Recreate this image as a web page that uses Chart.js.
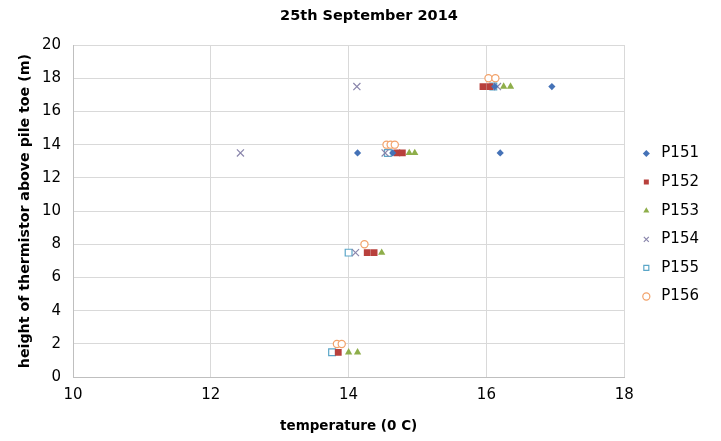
<!DOCTYPE html>
<html>
<head>
<meta charset="utf-8">
<script src="https://cdn.jsdelivr.net/npm/chart.js@4/dist/chart.umd.min.js"></script>
<style>
  html, body { margin: 0; padding: 0; background: #fff; }
  #wrap { width: 721px; height: 441px; }
</style>
</head>
<body>
<div id="wrap"><canvas id="myChart" width="721" height="441"></canvas></div>
<script>
// readings per pile: temperature (x) and thermistor height (y)
const p151Temp = [16.95, 16.12, 14.13, 16.2, 14.64];
const p151Height = [17.5, 17.5, 13.5, 13.5, 13.5];
const p152Temp = [15.95, 16.05, 14.7, 14.78, 14.27, 14.37, 13.85];
const p152Height = [17.5, 17.5, 13.5, 13.5, 7.5, 7.5, 1.5];
const p153Temp = [16.25, 16.35, 14.88, 14.96, 14.48, 14.0, 14.13];
const p153Height = [17.5, 17.5, 13.5, 13.5, 7.5, 1.5, 1.5];
const p154Temp = [14.12, 16.16, 12.43, 14.53, 14.1];
const p154Height = [17.5, 17.5, 13.5, 13.5, 7.5];
const p155Temp = [16.1, 14.57, 14.0, 13.76];
const p155Height = [17.5, 13.5, 7.5, 1.5];
const p156Temp = [16.03, 16.13, 14.55, 14.61, 14.67, 14.23, 13.83, 13.9];
const p156Height = [18, 18, 14, 14, 14, 8, 2, 2];

const xTicks = [10, 12, 14, 16, 18];
const yTicks = [0, 2, 4, 6, 8, 10, 12, 14, 16, 18, 20];

const pts = (xs, ys) => xs.map((x, i) => ({ x: x, y: ys[i] }));

const series = [
    { label: 'P151', data: pts(p151Temp, p151Height), style: 'rectRot', color: '#4572B7', fill: true, r: 3.6 },
    { label: 'P152', data: pts(p152Temp, p152Height), style: 'rect', color: '#B8403C', fill: true, r: 4.8 },
    { label: 'P153', data: pts(p153Temp, p153Height), style: 'triangle', color: '#8EAE4A', fill: true, r: 4.2 },
    { label: 'P154', data: pts(p154Temp, p154Height), style: 'crossRot', color: '#8A86AC', fill: false, r: 5 },
    { label: 'P155', data: pts(p155Temp, p155Height), style: 'rect', color: '#5BA6C8', fill: false, r: 4.8 },
    { label: 'P156', data: pts(p156Temp, p156Height), style: 'circle', color: '#F2A26A', fill: false, r: 3.6 }
];

// legend sits a bit wider than its text, reaching the right edge
const legendExtra = 12;
const widenLegend = {
    id: 'widenLegend',
    beforeLayout(chart) {
        const lg = chart.legend;
        if (lg && !lg._widened) {
            const fit = lg.fit;
            lg.fit = function () {
                fit.call(this);
                this.width += legendExtra;
            };
            lg._widened = true;
        }
    }
};

const font = 'DejaVu Sans';
const ctx = document.getElementById('myChart').getContext('2d');
const myChart = new Chart(ctx, {
    type: 'scatter',
    data: {
        datasets: series.map(s => ({
            label: s.label,
            data: s.data,
            pointStyle: s.style,
            pointRadius: s.r,
            pointHoverRadius: s.r,
            borderColor: s.color,
            backgroundColor: s.fill ? s.color : '#ffffff',
            borderWidth: s.fill ? 0 : 1.2,
            showLine: false
        }))
    },
    options: {
        responsive: false,
        animation: false,
        layout: { padding: { left: 17, right: 0, top: 0, bottom: 1 } },
        plugins: {
            title: {
                display: true,
                text: '25th September 2014',
                color: '#000',
                font: { family: font, size: 14.5, weight: 'bold' },
                padding: { top: 8, bottom: 19.6 }
            },
            legend: {
                position: 'right',
                // empty title only nudges the items down a little
                title: { display: true, text: '', font: { size: 5 }, padding: 2 },
                labels: {
                    usePointStyle: true,
                    boxHeight: 5,
                    padding: 13.6,
                    color: '#000',
                    font: { family: font, size: 15 }
                }
            },
            tooltip: { enabled: false }
        },
        scales: {
            x: {
                type: 'linear',
                min: 10,
                max: 18,
                afterBuildTicks: axis => { axis.ticks = xTicks.map(v => ({ value: v })); },
                grid: { color: '#D9D9D9', drawTicks: false },
                border: { color: '#BFBFBF' },
                ticks: { color: '#000', padding: 9, font: { family: font, size: 15 } },
                title: {
                    display: true,
                    text: 'temperature (0 C)',
                    color: '#000',
                    font: { family: font, size: 13.5, weight: 'bold' },
                    padding: { top: 5, bottom: 5.6 }
                }
            },
            y: {
                type: 'linear',
                min: 0,
                max: 20,
                afterBuildTicks: axis => { axis.ticks = yTicks.map(v => ({ value: v })); },
                afterFit: axis => { axis.width = 56; },
                grid: { color: '#D9D9D9', drawTicks: false },
                border: { color: '#BFBFBF' },
                ticks: { color: '#000', padding: 12, font: { family: font, size: 15 } },
                title: {
                    display: true,
                    text: 'height of thermistor above pile toe (m)',
                    color: '#000',
                    font: { family: font, size: 14.2, weight: 'bold' },
                    padding: 0
                }
            },
            // empty axis, only keeps a gap between plot and legend
            gap: {
                type: 'linear',
                position: 'right',
                grid: { display: false },
                border: { display: false },
                ticks: { display: false },
                afterFit: axis => { axis.width = 1; }
            }
        }
    },
    plugins: [widenLegend]
});
</script>
</body>
</html>
